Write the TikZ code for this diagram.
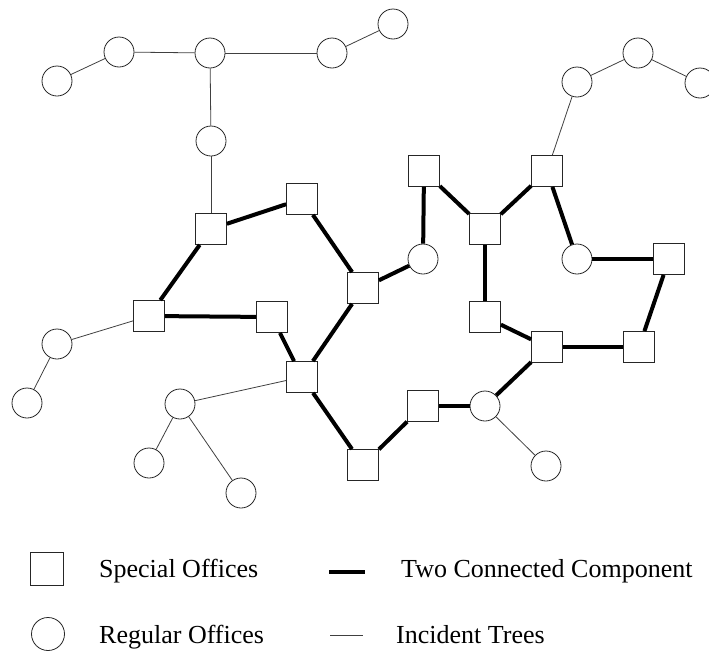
\documentclass[tikz,border=0pt]{standalone}
\usepackage{fontspec}
\setmainfont{Liberation Serif}
\begin{document}
\begin{tikzpicture}[x=1pt,y=-1pt,
  reg/.style={circle,draw=black!85,line width=0.8pt,minimum size=30pt,inner sep=0pt},
  spec/.style={rectangle,draw=black!85,line width=0.8pt,minimum size=31pt,inner sep=0pt},
  twocc/.style={line width=4pt,black},
  tree/.style={line width=0.8pt,black!75},
  lbl/.style={anchor=base west,inner sep=0pt,font=\fontsize{26}{30}\selectfont}]
\useasboundingbox (0,0) rectangle (709,651);
% regular offices
\node[reg] (c1) at (57,81) {};
\node[reg] (c2) at (119,52) {};
\node[reg] (c3) at (210,53) {};
\node[reg] (c4) at (332,53) {};
\node[reg] (c5) at (393,24) {};
\node[reg] (c6) at (211,141) {};
\node[reg] (c7) at (577,82) {};
\node[reg] (c8) at (638,53) {};
\node[reg] (c9) at (700,83) {};
\node[reg] (c10) at (423,259) {};
\node[reg] (c11) at (577,259) {};
\node[reg] (c12) at (57,344) {};
\node[reg] (c13) at (27,403) {};
\node[reg] (c14) at (180,404) {};
\node[reg] (c15) at (149,463) {};
\node[reg] (c16) at (241,493) {};
\node[reg] (c17) at (485,406) {};
\node[reg] (c18) at (546,466) {};
% special offices
\node[spec] (s1) at (211,229) {};
\node[spec] (s2) at (302,199) {};
\node[spec] (s3) at (363,288) {};
\node[spec] (s4) at (424,171) {};
\node[spec] (s5) at (485,229) {};
\node[spec] (s6) at (547,171) {};
\node[spec] (s7) at (669,259) {};
\node[spec] (s8) at (149,316) {};
\node[spec] (s9) at (272,317) {};
\node[spec] (s10) at (485,317) {};
\node[spec] (s11) at (547,347) {};
\node[spec] (s12) at (639,347) {};
\node[spec] (s13) at (302,377) {};
\node[spec] (s14) at (423,406) {};
\node[spec] (s15) at (363,465) {};
% two connected component
\draw[twocc] (s1) -- (s2);
\draw[twocc] (s1) -- (s8);
\draw[twocc] (s8) -- (s9);
\draw[twocc] (s9) -- (s13);
\draw[twocc] (s2) -- (s3);
\draw[twocc] (s3) -- (s13);
\draw[twocc] (s3) -- (c10);
\draw[twocc] (c10) -- (s4);
\draw[twocc] (s4) -- (s5);
\draw[twocc] (s5) -- (s6);
\draw[twocc] (s6) -- (c11);
\draw[twocc] (c11) -- (s7);
\draw[twocc] (s7) -- (s12);
\draw[twocc] (s12) -- (s11);
\draw[twocc] (s11) -- (s10);
\draw[twocc] (s10) -- (s5);
\draw[twocc] (s11) -- (c17);
\draw[twocc] (c17) -- (s14);
\draw[twocc] (s14) -- (s15);
\draw[twocc] (s15) -- (s13);
% incident trees
\draw[tree] (c1) -- (c2);
\draw[tree] (c2) -- (c3);
\draw[tree] (c3) -- (c4);
\draw[tree] (c4) -- (c5);
\draw[tree] (c3) -- (c6);
\draw[tree] (c6) -- (s1);
\draw[tree] (c7) -- (s6);
\draw[tree] (c7) -- (c8);
\draw[tree] (c8) -- (c9);
\draw[tree] (s8) -- (c12);
\draw[tree] (c12) -- (c13);
\draw[tree] (s13) -- (c14);
\draw[tree] (c14) -- (c15);
\draw[tree] (c14) -- (c16);
\draw[tree] (c17) -- (c18);
% legend
\node[spec,minimum size=33pt] (lsq) at (47,569) {};
\node[reg,minimum size=33pt] (lci) at (48,634) {};
\node[lbl] (tsq) at (99,577) {Special Offices};
\node[lbl] (tci) at (99,643) {Regular Offices};
\coordinate (la1) at (329,572);
\coordinate (la2) at (365,572);
\coordinate (lb1) at (330,635);
\coordinate (lb2) at (363,635);
\draw[twocc] (la1) -- (la2);
\draw[tree] (lb1) -- (lb2);
\node[lbl] (tcc) at (401,577) {Two Connected Component};
\node[lbl] (ttr) at (396,643) {Incident Trees};
\end{tikzpicture}
\end{document}
